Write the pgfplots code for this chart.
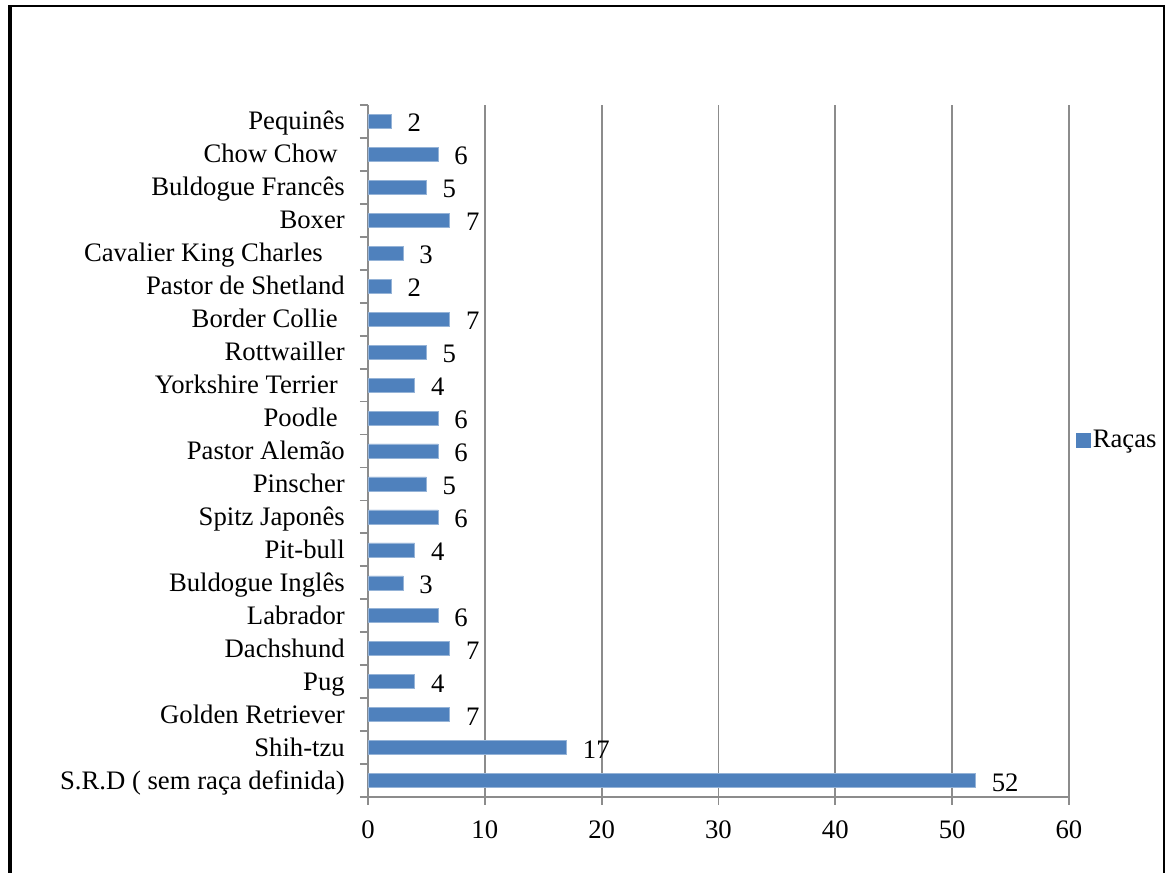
\documentclass[border=0pt]{standalone}
\usepackage{pgfplots}
\pgfplotsset{compat=1.18}
\usepackage{fontspec}
\setmainfont{Liberation Serif}
\definecolor{barblue}{HTML}{4F81BD}
\definecolor{gridgray}{HTML}{8C8C8C}
\begin{document}
\begin{tikzpicture}[font=\fontsize{26.7}{32}\selectfont]
\useasboundingbox (0,0) rectangle (1168pt,873pt);
\draw[line width=4pt] (10pt,0) -- (10pt,867pt);
\draw[line width=2pt] (8pt,867pt) -- (1165pt,867pt);
\draw[line width=2pt] (1164pt,867pt) -- (1164pt,0);
\begin{axis}[
  at={(368pt,76pt)}, anchor=south west,
  scale only axis, width=701pt, height=692pt,
  xmin=0, xmax=60, ymin=-0.5, ymax=20.5,
  xbar, bar width=14pt,
  axis x line*=bottom, axis y line*=left,
  axis line style={gridgray, line width=1.8pt},
  xtick={0,10,...,60},
  xmajorgrids, major grid style={gridgray, line width=1.8pt},
  ytick={0,...,20},
  yticklabels={S.R.D ( sem raça definida), Shih-tzu, Golden Retriever, Pug, Dachshund, Labrador, Buldogue Inglês, Pit-bull, Spitz Japonês, Pinscher, Pastor Alemão, Poodle\kern7pt, Yorkshire Terrier\kern7pt, Rottwailler, Border Collie\kern7pt, Pastor de Shetland, Cavalier King Charles\kern22pt, Boxer, Buldogue Francês, Chow Chow\kern7pt, Pequinês},
  minor ytick={-0.5,0.5,...,20.5},
  tick align=outside,
  major tick length=8pt, minor tick length=8pt,
  every major y tick/.append style={draw=none},
  tick style={gridgray, line width=1.8pt},
  /pgf/number format/assume math mode=true,
  tick label style={font=\fontsize{26.7}{32}\selectfont},
  yticklabel style={anchor=base east, inner sep=0pt, xshift=-15pt, yshift=-8.5pt},
  xticklabel style={anchor=north, inner sep=0pt, yshift=-16pt},
  point meta=x,
  nodes near coords,
  nodes near coords style={anchor=base west, inner sep=0pt, xshift=16pt, yshift=-10.5pt, text=black, font=\fontsize{26.7}{32}\selectfont},
  legend style={at={(1,0.516)}, anchor=west, xshift=7pt, draw=none, fill=none, inner sep=0pt, nodes={inner sep=2pt}, font=\fontsize{26.7}{32}\selectfont},
  legend image code/.code={\fill[barblue] (0pt,-7pt) rectangle (14pt,7pt);},
]
\addplot[fill=barblue, draw=barblue!60!white, line width=0.6pt] coordinates {
(52,0) (17,1) (7,2) (4,3) (7,4) (6,5) (3,6) (4,7) (6,8) (5,9) (6,10)
(6,11) (4,12) (5,13) (7,14) (2,15) (3,16) (7,17) (5,18) (6,19) (2,20)
};
\addlegendentry{Raças}
\end{axis}
\end{tikzpicture}
\end{document}
